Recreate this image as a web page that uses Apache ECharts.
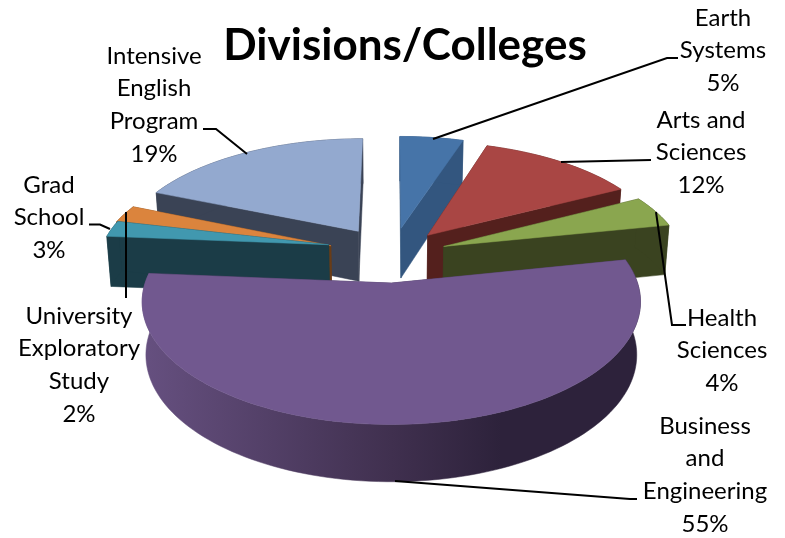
<!DOCTYPE html>
<html><head><meta charset="utf-8">
<style>html,body{margin:0;padding:0;background:#fff}#c{width:785px;height:538px}</style>
<script src="https://cdn.jsdelivr.net/npm/echarts@6/dist/echarts.min.js"></script>
</head><body><div id="c"></div>
<script>
const categories = ['Earth Systems','Arts and Sciences','Health Sciences','Business and Engineering','University Exploratory Study','Grad School','Intensive English Program'];
const values = [5,12.4,4.4,54.5,2.4,2.6,18.7];
const titleText = 'Divisions/Colleges';

// styling
const topColors  = ['#4674A8','#A94644','#8AA64F','#71588F','#4198AF','#DB843D','#93A9CF'];
const sideColors = ['#33567F','#54201D','#3A4320','#3F3053','#1B3C47','#6A3D17','#3A4355'];
const paintRank  = [0,4,5,6,3,2,1];
const explode    = [0.248,0.235,0.23,0.24,0.27,0.27,0.26];
const nudgeU     = [0,0,0,-0.017,0,0,0];
const nudgeV     = [0,0,0,0,-0.05,0,0];
const radiusScale= [1,1,1,0.985,0.95,0.965,1];

// label layout: centre x, first line y, lines
const labelLayout = [
  {x:723,y:18,lines:['Earth','Systems','5%']},
  {x:701,y:120,lines:['Arts and','Sciences','12%']},
  {x:722,y:318,lines:['Health','Sciences','4%']},
  {x:705,y:426,lines:['Business','and','Engineering','55%']},
  {x:79,y:316,lines:['University','Exploratory','Study','2%']},
  {x:49,y:185,lines:['Grad','School','3%']},
  {x:154,y:56,lines:['Intensive','English','Program','19%']}
];
const leaderLines = [
  [[433,139],[667,58],[678,58]],
  [[561,162],[651,160]],
  [[656,212],[672,325],[686,325]],
  [[395,481],[630,499],[637,499]],
  [[126,212],[126,298]],
  [[110,229],[100,224.5],[89,224.5]],
  [[247,154],[216,129],[203,129]]
];

// pseudo-3D projection
const scene = {cx:392,cy:255,R:241,K:113,H:51,persp:0.15,hPersp:0.1,shrink:0.985};
function project(u,v,level){
  const s = 1/(1-scene.persp*v);
  const xs = level ? scene.shrink : 1;
  return [scene.cx + s*xs*u*scene.R, scene.cy + s*v*scene.K + level*(1+scene.hPersp*v)*scene.H];
}
const total = values.reduce((a,b)=>a+b,0);
const startFrac = [];
values.reduce((acc,v,i)=>{startFrac[i]=acc;return acc+v/total;},0);

function buildSlice(i,value){
  const a0 = startFrac[i]*2*Math.PI, a1 = a0 + value/total*2*Math.PI;
  const mid = (a0+a1)/2;
  const eu = explode[i]*Math.sin(mid)+nudgeU[i], ev = -explode[i]*Math.cos(mid)+nudgeV[i];
  const r = radiusScale[i];
  const rim = (a,l)=>project(eu+r*Math.sin(a),ev-r*Math.cos(a),l);
  const apex = l=>project(eu,ev,l);
  const n = Math.max(8,Math.ceil((a1-a0)/0.03));
  const arcT=[],arcB=[];
  for(let k=0;k<=n;k++){const a=a0+(a1-a0)*k/n;arcT.push(rim(a,0));arcB.push(rim(a,1));}
  const base = paintRank[i]*10;
  const poly=(pts,fill,z)=>({type:'polygon',z2:base+z,shape:{points:pts},style:{fill:fill,stroke:fill,lineWidth:0.5}});
  const wallFill = i===3 ? new echarts.graphic.LinearGradient(0,0,1,0,[
      {offset:0,color:'#665080'},{offset:0.5,color:'#40304F'},{offset:0.72,color:'#2D223B'},{offset:1,color:'#2D223B'}])
    : sideColors[i];
  return [
    poly([apex(0),rim(a0,0),rim(a0,1),apex(1)],sideColors[i],0),
    poly([apex(0),rim(a1,0),rim(a1,1),apex(1)],sideColors[i],1),
    poly(arcT.concat(arcB.slice().reverse()),wallFill,2),
    poly([apex(0)].concat(arcT),topColors[i],3)
  ];
}

const chart = echarts.init(document.getElementById('c'),null,{renderer:'canvas'});
const textStyle = {fontFamily:'Lato',fontSize:24,fill:'#000',textAlign:'center',textVerticalAlign:'middle'};
chart.setOption({
  animation:false,
  backgroundColor:'#fff',
  title:{text:titleText,left:400,top:41,textAlign:'center',textVerticalAlign:'middle',
    textStyle:{fontFamily:'Lato',fontWeight:'bold',fontSize:44,color:'#000'}},
  series:[{
    type:'custom',
    coordinateSystem:'none',
    silent:true,
    data:values.map((v,i)=>({name:categories[i],value:[v]})),
    renderItem:function(params,api){
      const i=params.dataIndex;
      const children=buildSlice(i,api.value(0));
      children.push({type:'polyline',z2:200,shape:{points:leaderLines[i]},style:{fill:null,stroke:'#000',lineWidth:2}});
      const L=labelLayout[i];
      L.lines.forEach((t,k)=>children.push({type:'text',z2:201,style:Object.assign({},textStyle,{text:t,x:L.x,y:L.y+k*32.7})}));
      return {type:'group',children};
    }
  }]
});
</script></body></html>
